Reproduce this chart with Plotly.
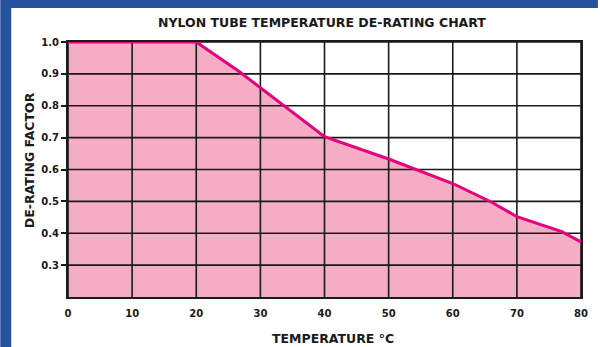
import plotly.graph_objects as go

# Temperature (°C) vs de-rating factor for nylon tube
temperature = [0, 20, 26.8, 30, 40, 50, 55, 60, 66, 70, 77, 80]
derating = [1.0, 1.0, 0.906, 0.857, 0.703, 0.633, 0.594, 0.556, 0.498, 0.452, 0.405, 0.373]

x_ticks = [0, 10, 20, 30, 40, 50, 60, 70, 80]
y_ticks = [0.3, 0.4, 0.5, 0.6, 0.7, 0.8, 0.9, 1.0]
x_range = [0, 80]
y_range = [0.2, 1.0]

W, H = 600, 347
L, R, T, B = 68, 17, 42, 50
FONT = "DejaVu Sans"
INK = "#1a1a1a"
BLUE = "#24529c"
PINK_FILL = "#f5acc5"
MAGENTA = "#e5007d"

fig = go.Figure()

# shaded area under the curve
fig.add_trace(go.Scatter(
    x=temperature, y=derating, mode="lines", fill="tozeroy",
    fillcolor=PINK_FILL, line=dict(width=0), hoverinfo="skip", showlegend=False,
))

# grid drawn over the fill
gx, gy = [], []
for xv in x_ticks:
    gx += [xv, xv, None]
    gy += [y_range[0], y_range[1], None]
for yv in y_ticks:
    gx += [x_range[0], x_range[1], None]
    gy += [yv, yv, None]
fig.add_trace(go.Scatter(
    x=gx, y=gy, mode="lines", line=dict(color=INK, width=1.6),
    hoverinfo="skip", showlegend=False,
))

# de-rating curve
fig.add_trace(go.Scatter(
    x=temperature, y=derating, mode="lines",
    line=dict(color=MAGENTA, width=3), cliponaxis=False, showlegend=False,
))

tick_font = dict(family=FONT, size=10, color=INK, weight="bold")

fig.update_xaxes(
    range=x_range, tickvals=x_ticks, ticktext=[str(v) for v in x_ticks],
    showgrid=False, zeroline=False, showline=True, linecolor=INK, linewidth=2,
    mirror=True, ticks="", tickfont=tick_font, ticklabelstandoff=6,
)
fig.update_yaxes(
    range=y_range, tickvals=y_ticks, ticktext=[f"{v:.1f}" for v in y_ticks],
    showgrid=False, zeroline=False, showline=True, linecolor=INK, linewidth=2,
    mirror=True, ticks="outside", ticklen=5, tickcolor=INK, tickwidth=1.6,
    tickfont=tick_font,
)

pw, ph = W - L - R, H - T - B

def px_x(p):
    return (p - L) / pw

def px_y(p):
    return (H - B - p) / ph

# blue frame: left and top edge bands
fig.add_shape(type="rect", xref="paper", yref="paper", layer="above",
              x0=px_x(0), x1=px_x(11), y0=px_y(H), y1=px_y(8),
              fillcolor=BLUE, line=dict(width=0))
fig.add_shape(type="rect", xref="paper", yref="paper", layer="above",
              x0=px_x(0), x1=px_x(W), y0=px_y(8), y1=px_y(0),
              fillcolor=BLUE, line=dict(width=0))

title_font = dict(family=FONT, size=12.5, color=INK, weight="bold")
fig.add_annotation(text="NYLON TUBE TEMPERATURE DE-RATING CHART",
                   xref="paper", yref="paper", x=px_x(323), y=px_y(22),
                   showarrow=False, font=title_font, xanchor="center", yanchor="middle")
fig.add_annotation(text="TEMPERATURE °C",
                   xref="paper", yref="paper", x=px_x(334), y=px_y(338),
                   showarrow=False, font=title_font, xanchor="center", yanchor="middle")
fig.add_annotation(text="DE-RATING FACTOR", textangle=-90,
                   xref="paper", yref="paper", x=px_x(29), y=px_y(160),
                   showarrow=False, font=title_font, xanchor="center", yanchor="middle")

fig.update_layout(
    width=W, height=H, margin=dict(l=L, r=R, t=T, b=B),
    paper_bgcolor="white", plot_bgcolor="white",
)

fig.write_html("out.html")
